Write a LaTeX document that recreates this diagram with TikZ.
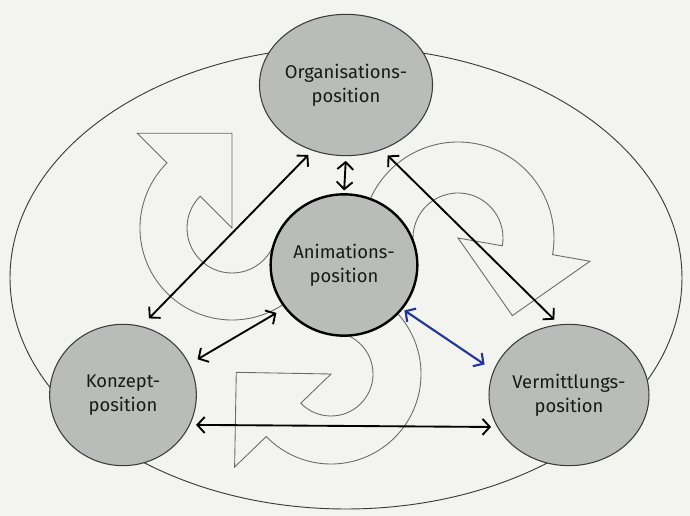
\documentclass[tikz,border=0pt]{standalone}
\usepackage{fontspec}
\setsansfont{Fira Sans}
\usetikzlibrary{arrows.meta,calc,shapes.geometric}

\definecolor{paper}{RGB}{243,243,240}
\definecolor{discgray}{RGB}{186,188,185}
\definecolor{rimgray}{RGB}{60,60,60}
\definecolor{curlgray}{RGB}{105,105,105}
\definecolor{inkblue}{RGB}{35,55,150}

% #1 centre, #2 angle of arrow base, #3 inner radius, #4 outer radius, #5 end angle
\newcommand{\curlarrow}[5]{%
  \draw[curl] ($(#1)+(#2:134)$) -- ($(#1)+(#2+45:94.75)$) -- (#1)
    -- ($(#1)+(#2:#3)$) arc[start angle=#2, end angle=#5, radius=#3]
    -- ($(#1)+(#5:#4)$) arc[start angle=#5, end angle=#2, radius=#4] -- cycle;}

\begin{document}
\begin{tikzpicture}[x=0.75pt,y=-0.75pt,
    disc/.style={ellipse, draw=rimgray, line width=0.8pt, fill=discgray,
      minimum width=110pt, minimum height=106pt, inner sep=0pt, align=center,
      font=\sffamily\fontsize{13.8}{18}\selectfont, text=black!90},
    curl/.style={draw=curlgray, line width=0.65pt},
    link/.style={{Straight Barb[length=5.5pt,width=12pt]}-{Straight Barb[length=5.5pt,width=12pt]},
      line width=1.4pt},
    bluelink/.style={link, draw=inkblue, line width=1.6pt}]
  \fill[paper] (0,0) rectangle (690,516);
  \draw[rimgray, line width=0.7pt] (346,278) ellipse [x radius=336, y radius=231];

  \coordinate (cl) at (232,228);
  \coordinate (cr) at (458,238);
  \coordinate (cb) at (331,374);
  \curlarrow{cl}{225}{45}{92}{18}
  \curlarrow{cr}{10}{45}{96}{-193}
  \curlarrow{cb}{136}{42}{90}{-83}

  \node[disc] (org) at (346,85) {Organisations-\\position};
  \node[disc, draw=black, line width=1.8pt] (anim) at (344,265) {Animations-\\position};
  \node[disc] (konz) at (123,395) {Konzept-\\position};
  \node[disc] (verm) at (569,395) {Vermittlungs-\\position};

  \draw[link, shorten <=3.5pt, shorten >=2pt] (org.270) -- (anim.90);
  \draw[link, shorten <=4.5pt, shorten >=8pt] (org.243) -- (konz.75);
  \draw[link, shorten <=6pt, shorten >=5pt] (org.299) -- (verm.98);
  \draw[link, shorten <=7pt, shorten >=7pt] (anim.216) -- (konz.25);
  \draw[link, shorten <=4.5pt, shorten >=4.5pt] (konz.-24) -- (verm.204);
  \draw[bluelink, shorten <=1.5pt, shorten >=8pt] (anim.-37) -- (verm.162);
\end{tikzpicture}
\end{document}
